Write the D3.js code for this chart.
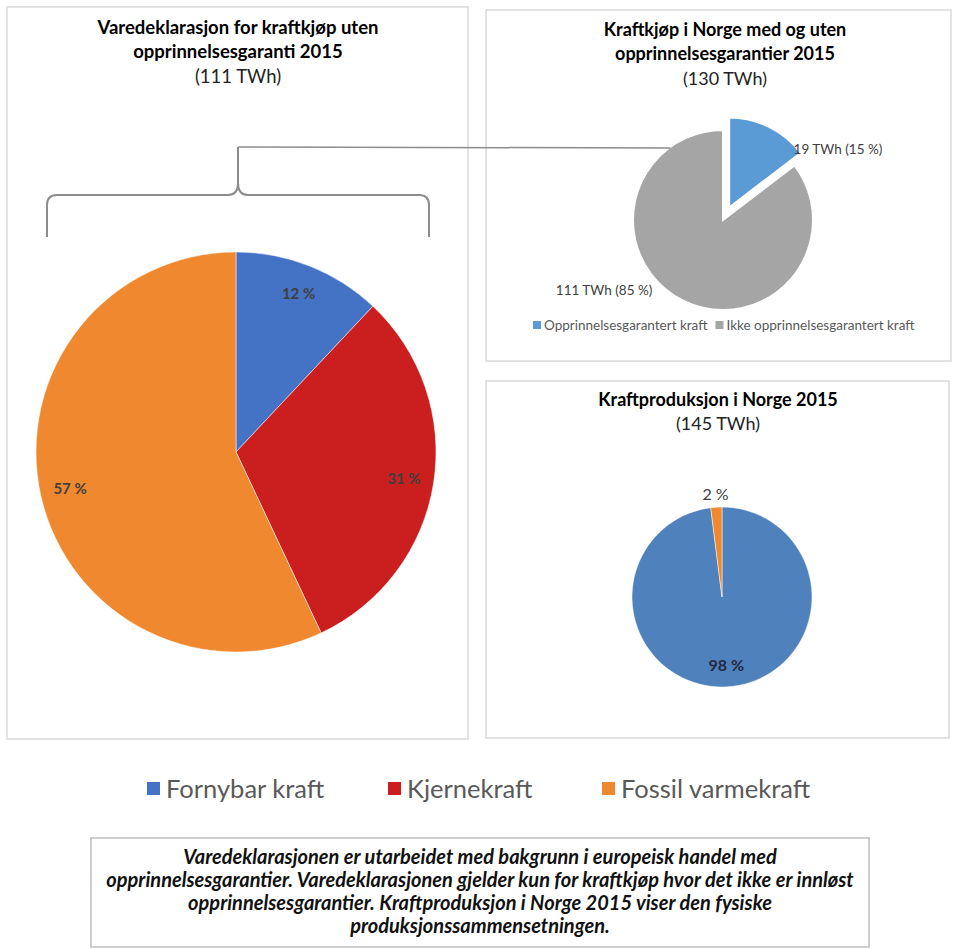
<!DOCTYPE html>
<meta charset="utf-8">
<script src="https://d3js.org/d3.v7.min.js"></script>
<style>
  body { margin: 0; background: #fff; }
  text { font-family: Lato, "Open Sans", sans-serif; }
</style>
<div id="chart"></div>
<script>
  // data
  var categories = ["Fornybar kraft", "Kjernekraft", "Fossil varmekraft"];
  var declarationShares = [12, 31, 57];                 // % of 111 TWh
  var purchaseCategories = ["Opprinnelsesgarantert kraft", "Ikke opprinnelsesgarantert kraft"];
  var purchaseTWh = [19, 111];
  var purchaseShares = [15, 85];
  var productionCategories = ["Fornybar kraft", "Fossil varmekraft"];
  var productionShares = [98, 2];
  var noteLines = [
    "Varedeklarasjonen er utarbeidet med bakgrunn i europeisk handel med",
    "opprinnelsesgarantier. Varedeklarasjonen gjelder kun for kraftkjøp hvor det ikke er innløst",
    "opprinnelsesgarantier. Kraftproduksjon i Norge 2015 viser den fysiske",
    "produksjonssammensetningen."
  ];

  var color = d3.scaleOrdinal()
    .domain(categories)
    .range(["#4472C4", "#CB1F1F", "#EF882E"]);
  var prodColor = d3.scaleOrdinal()
    .domain(productionCategories)
    .range(["#4F81BD", "#EF882E"]);
  var purchaseColor = d3.scaleOrdinal()
    .domain(purchaseCategories)
    .range(["#5B9BD5", "#A5A5A5"]);

  var svg = d3.select("#chart").append("svg")
    .attr("width", 960)
    .attr("height", 950);

  // panel frames
  function frame(x, y, w, h) {
    svg.append("rect")
      .attr("x", x).attr("y", y).attr("width", w).attr("height", h)
      .attr("fill", "#fff").attr("stroke", "#D9D9D9").attr("stroke-width", 1.5);
  }
  frame(7, 7, 461, 732);
  frame(486, 10, 465, 351);
  frame(486, 381, 463, 357);

  function title(x, lines, size) {
    lines.forEach(function (l) {
      svg.append("text")
        .attr("x", x).attr("y", l.y)
        .attr("text-anchor", "middle")
        .attr("font-size", size)
        .attr("font-weight", l.bold ? "bold" : "normal")
        .attr("fill", l.bold ? "#000" : "#222")
        .text(l.t);
    });
  }
  title(238, [
    { t: "Varedeklarasjon for kraftkjøp uten", y: 34, bold: true },
    { t: "opprinnelsesgaranti 2015", y: 58, bold: true },
    { t: "(111 TWh)", y: 83 }
  ], 18.5);
  title(725, [
    { t: "Kraftkjøp i Norge med og uten", y: 36, bold: true },
    { t: "opprinnelsesgarantier 2015", y: 60, bold: true },
    { t: "(130 TWh)", y: 85 }
  ], 18);
  title(718, [
    { t: "Kraftproduksjon i Norge 2015", y: 406, bold: true },
    { t: "(145 TWh)", y: 430 }
  ], 18);

  var pie = d3.pie().sort(null).value(function (d) { return d.v; });

  // ---- left pie: varedeklarasjon
  var L = { cx: 236, cy: 452, r: 200 };
  var declData = categories.map(function (c, i) { return { k: c, v: declarationShares[i] }; });
  var arcL = d3.arc().innerRadius(0).outerRadius(L.r);
  var labL = d3.arc().innerRadius(L.r * 0.85).outerRadius(L.r * 0.85);
  var gL = svg.append("g").attr("transform", "translate(" + L.cx + "," + L.cy + ")");
  gL.selectAll("path").data(pie(declData)).enter().append("path")
    .attr("d", arcL)
    .attr("fill", function (d) { return color(d.data.k); })
    .attr("stroke", "#fff").attr("stroke-width", 0.5);
  gL.selectAll("text").data(pie(declData)).enter().append("text")
    .attr("transform", function (d) { return "translate(" + labL.centroid(d) + ")"; })
    .attr("text-anchor", "middle").attr("dy", "0.35em")
    .attr("font-size", 15).attr("font-weight", "bold").attr("fill", "#404040")
    .text(function (d) { return d.data.v + " %"; });

  // ---- top right pie: kraftkjøp
  var T = { cx: 723, cy: 220, r: 90, explode: 14 };
  var purData = purchaseCategories.map(function (c, i) {
    return { k: c, v: purchaseTWh[i], p: purchaseShares[i] };
  });
  var arcT = d3.arc().innerRadius(0).outerRadius(T.r);
  var gT = svg.append("g").attr("transform", "translate(" + T.cx + "," + T.cy + ")");
  var purArcs = pie(purData);
  gT.selectAll("path").data(purArcs).enter().append("path")
    .attr("d", arcT)
    .attr("transform", function (d, i) {
      if (i > 0) return null;
      var a = (d.startAngle + d.endAngle) / 2;
      return "translate(" + (Math.sin(a) * T.explode) + "," + (-Math.cos(a) * T.explode) + ")";
    })
    .attr("fill", function (d) { return purchaseColor(d.data.k); })
    .attr("stroke", "#fff").attr("stroke-width", 2);
  gT.selectAll("text").data(purArcs).enter().append("text")
    .attr("x", function (d) { var a = (d.startAngle + d.endAngle) / 2 + 0.3; return Math.sin(a) * T.r * 1.14; })
    .attr("y", function (d) { var a = (d.startAngle + d.endAngle) / 2 + 0.3; return -Math.cos(a) * T.r * 1.08; })
    .attr("text-anchor", function (d) { return (d.startAngle + d.endAngle) / 2 + 0.3 < Math.PI ? "start" : "end"; })
    .attr("dy", "0.35em")
    .attr("font-size", 13.5).attr("fill", "#404040")
    .text(function (d) { return d.data.v + " TWh (" + d.data.p + " %)"; });

  // small legend
  var legT = svg.append("g").attr("transform", "translate(533,325)");
  var lx = 0;
  purchaseCategories.forEach(function (c) {
    var it = legT.append("g").attr("transform", "translate(" + lx + ",0)");
    it.append("rect").attr("x", 0).attr("y", -4).attr("width", 8).attr("height", 8)
      .attr("fill", purchaseColor(c));
    var t = it.append("text").attr("x", 11).attr("dy", "0.35em")
      .attr("font-size", 13.5).attr("fill", "#595959").text(c);
    lx += 11 + t.node().getComputedTextLength() + 8;
  });

  // ---- bottom right pie: kraftproduksjon
  var B = { cx: 722, cy: 597, r: 90 };
  var prodData = productionCategories.map(function (c, i) { return { k: c, v: productionShares[i] }; });
  var arcB = d3.arc().innerRadius(0).outerRadius(B.r);
  var gB = svg.append("g").attr("transform", "translate(" + B.cx + "," + B.cy + ")");
  var prodArcs = pie(prodData);
  gB.selectAll("path").data(prodArcs).enter().append("path")
    .attr("d", arcB)
    .attr("fill", function (d) { return prodColor(d.data.k); })
    .attr("stroke", "#fff").attr("stroke-width", 0.5);
  gB.selectAll("text").data(prodArcs).enter().append("text")
    .attr("transform", function (d) {
      var big = d.endAngle - d.startAngle > 1;
      var rr = big ? B.r * 0.76 : B.r * 1.14;
      var a = (d.startAngle + d.endAngle) / 2;
      return "translate(" + (Math.sin(a) * rr) + "," + (-Math.cos(a) * rr) + ")";
    })
    .attr("text-anchor", "middle").attr("dy", "0.35em")
    .attr("font-size", 16)
    .attr("font-weight", function (d) { return d.endAngle - d.startAngle > 1 ? "bold" : "normal"; })
    .attr("fill", function (d) { return d.endAngle - d.startAngle > 1 ? "#1F2A44" : "#404040"; })
    .text(function (d) { return d.data.v + " %"; });

  // ---- brace tying the left pie to the grey slice
  var bL = L.cx - 189, bR = L.cx + 193, bY = 195, bTop = 147, bBot = 237;
  var p = d3.path();
  p.moveTo(bL, bBot); p.lineTo(bL, bY + 10);
  p.quadraticCurveTo(bL, bY, bL + 10, bY);
  p.lineTo(L.cx + 2 - 10, bY);
  p.quadraticCurveTo(L.cx + 2, bY, L.cx + 2, bY - 12);
  p.lineTo(L.cx + 2, bTop);
  p.moveTo(L.cx + 2, bY - 12);
  p.quadraticCurveTo(L.cx + 2, bY, L.cx + 12, bY);
  p.lineTo(bR - 10, bY);
  p.quadraticCurveTo(bR, bY, bR, bY + 10);
  p.lineTo(bR, bBot);
  svg.append("path").attr("d", p.toString())
    .attr("fill", "none").attr("stroke", "#8C8C8C").attr("stroke-width", 2);
  var edgeX = T.cx - Math.sqrt(T.r * T.r - Math.pow(T.cy - bTop, 2));
  svg.append("line")
    .attr("x1", L.cx + 2).attr("y1", bTop).attr("x2", edgeX).attr("y2", bTop + 1)
    .attr("stroke", "#8C8C8C").attr("stroke-width", 1.5);

  // ---- main legend
  var legX = [147, 388, 602];
  categories.forEach(function (c, i) {
    svg.append("rect").attr("x", legX[i]).attr("y", 782).attr("width", 13).attr("height", 13)
      .attr("fill", color(c));
    svg.append("text").attr("x", legX[i] + 19).attr("y", 789).attr("dy", "0.35em")
      .attr("font-size", 25.5).attr("fill", "#595959").text(c);
  });

  // ---- note box
  svg.append("rect").attr("x", 91).attr("y", 838).attr("width", 778).attr("height", 109)
    .attr("fill", "#fff").attr("stroke", "#BFBFBF").attr("stroke-width", 1.5);
  noteLines.forEach(function (l, i) {
    var t = svg.append("text").attr("x", 480).attr("y", 864 + i * 23)
      .attr("text-anchor", "middle").attr("font-size", 20)
      .attr("font-weight", "bold").attr("font-style", "italic").attr("fill", "#111")
      .text(l);
    var w = t.node().getComputedTextLength();
    if (w > 756) t.attr("textLength", 756).attr("lengthAdjust", "spacingAndGlyphs");
  });
</script>
